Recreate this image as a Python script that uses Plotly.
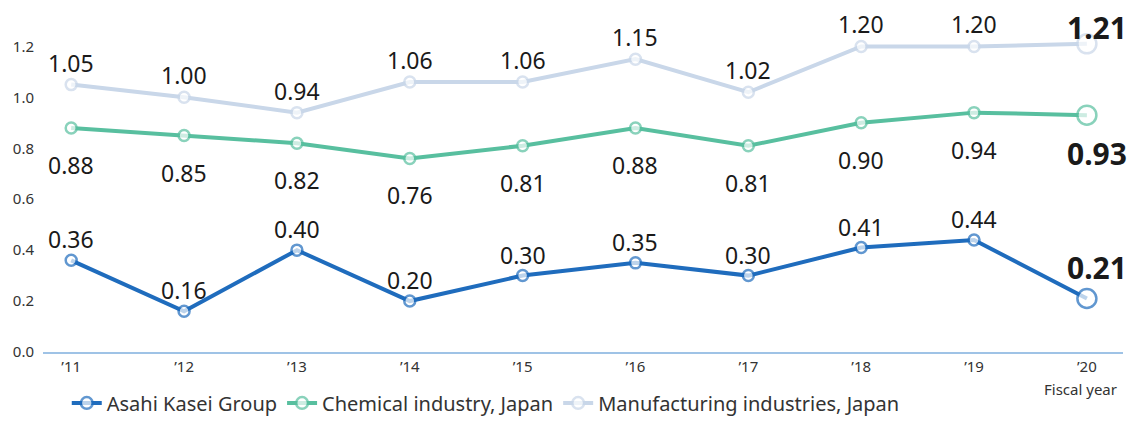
import plotly.graph_objects as go

years = ["’11", "’12", "’13", "’14", "’15", "’16", "’17", "’18", "’19", "’20"]
asahi = [0.36, 0.16, 0.40, 0.20, 0.30, 0.35, 0.30, 0.41, 0.44, 0.21]
chemical = [0.88, 0.85, 0.82, 0.76, 0.81, 0.88, 0.81, 0.90, 0.94, 0.93]
manufacturing = [1.05, 1.00, 0.94, 1.06, 1.06, 1.15, 1.02, 1.20, 1.20, 1.21]
y_ticks = [0.0, 0.2, 0.4, 0.6, 0.8, 1.0, 1.2]

# name, values, colour, label offset (regular, last)
series = [
    ("Asahi Kasei Group", asahi, "#1f6cbd", (21, 31)),
    ("Chemical industry, Japan", chemical, "#58bf9f", (-37, -38)),
    ("Manufacturing industries, Japan", manufacturing, "#c9d7e9", (22, 16)),
]

FONT = "Noto Sans"
fig = go.Figure()
n = len(years)
xs = list(range(n))
for name, vals, color, (sh, sh_last) in series:
    sizes = [11] * (n - 1) + [19]
    fig.add_trace(go.Scatter(
        x=xs, y=vals, name=name, mode="lines+markers",
        line=dict(color=color, width=4),
        marker=dict(size=sizes, color="white", line=dict(color=color, width=2.5)),
        hoverinfo="skip",
    ))
    for i, v in enumerate(vals):
        last = i == n - 1
        fig.add_annotation(
            x=i, y=v, xref="x", yref="y", text=f"{v:.2f}", showarrow=False,
            yshift=(sh_last if last else sh),
            xshift=(10 if last else 0),
            font=dict(family=FONT, size=(30 if last else 23),
                      color="#1a1a1a", weight=("bold" if last else "normal")),
        )

fig.add_annotation(x=9, y=0, xref="x", yref="y", text="Fiscal year", showarrow=False,
                   yshift=-37, xshift=-6, font=dict(family=FONT, size=15, color="#333333"))

fig.update_layout(
    width=1130, height=414,
    margin=dict(l=35, r=15, t=2, b=70, autoexpand=False),
    paper_bgcolor="white", plot_bgcolor="white",
    showlegend=True,
    legend=dict(orientation="h", x=0.022, y=-0.092, xanchor="left", yanchor="top",
                font=dict(family=FONT, size=20, color="#333333"),
                itemwidth=30, tracegroupgap=0),
    xaxis=dict(range=[-0.25, 9.32], tickmode="array", tickvals=xs, ticktext=years,
               showgrid=False, zeroline=False, showline=True, linecolor="#9fc3e6",
               linewidth=2, ticks="", tickfont=dict(family=FONT, size=15, color="#333333")),
    yaxis=dict(range=[0, 1.343], tickmode="array", tickvals=y_ticks,
               ticktext=[f"{t:.1f}" for t in y_ticks], ticklabelstandoff=8,
               showgrid=False, zeroline=False, showline=False, ticks="",
               tickfont=dict(family=FONT, size=15, color="#333333")),
)

fig.write_html("out.html")
